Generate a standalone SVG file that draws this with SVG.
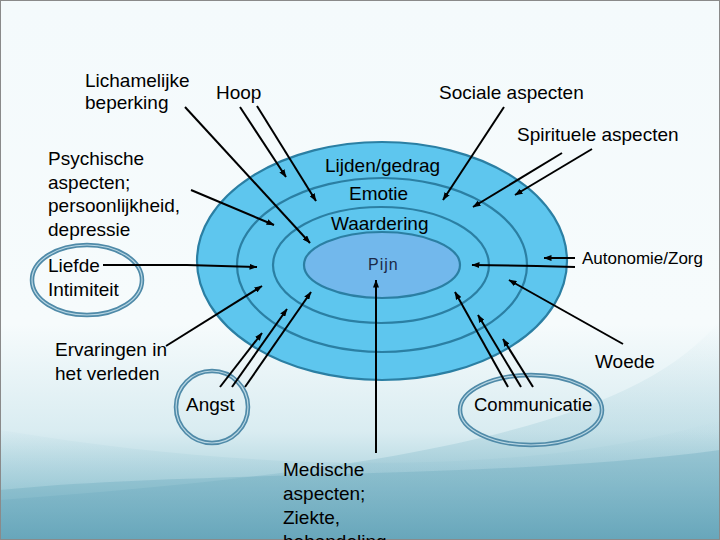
<svg xmlns="http://www.w3.org/2000/svg" width="720" height="540" viewBox="0 0 720 540">
<defs>
<linearGradient id="bg" x1="0" y1="0" x2="0" y2="1">
<stop offset="0" stop-color="#f4fafc"/>
<stop offset="0.6" stop-color="#f6fbfc"/>
<stop offset="0.8" stop-color="#d9ecf1"/>
<stop offset="1" stop-color="#7fb9c9"/>
</linearGradient>
<linearGradient id="wave" x1="0" y1="0" x2="0" y2="1">
<stop offset="0" stop-color="#9fcad6" stop-opacity="0"/>
<stop offset="0.5" stop-color="#8cc0cf" stop-opacity="0.5"/>
<stop offset="1" stop-color="#5f9fb5" stop-opacity="0.9"/>
</linearGradient>
<marker id="ah" viewBox="0 0 8 6" refX="7.5" refY="3" markerWidth="8" markerHeight="6" markerUnits="userSpaceOnUse" orient="auto">
<path d="M0,0 L8,3 L0,6 z" fill="#000"/>
</marker>
<style>
text{font-family:"Liberation Sans",Arial,sans-serif;font-size:19px;fill:#000}
.ring{stroke:#2b7fa3;stroke-width:2.2}
.ann{fill:none;stroke:#4f8aa8;stroke-width:4.5}
.annhi{fill:none;stroke:#b8d6e3;stroke-width:1.2}
#connectors line,#connectors polyline{stroke:#000;stroke-width:2;fill:none;marker-end:url(#ah)}
</style>
</defs>
<rect width="720" height="540" fill="url(#bg)"/>
<path d="M720,320 C640,420 420,470 0,500 L0,540 L720,540 Z" fill="url(#wave)" opacity="0.55"/>
<path d="M720,420 C560,470 300,480 0,430 L0,540 L720,540 Z" fill="url(#wave)" opacity="0.6"/>
<path d="M0,490 C200,470 500,480 720,450 L720,540 L0,540 Z" fill="#6aa9bd" opacity="0.35"/>
<rect x="0.5" y="0.5" width="719" height="539" fill="none" stroke="#8a8a8a" stroke-width="1"/>

<g id="rings">
<ellipse class="ring" cx="382" cy="261" rx="185" ry="119" fill="#5ec6ee"/>
<ellipse class="ring" cx="382" cy="265" rx="145" ry="87" fill="#5ec6ee"/>
<ellipse class="ring" cx="381" cy="265" rx="108" ry="58" fill="#5ec6ee"/>
<ellipse class="ring" cx="382" cy="265" rx="78" ry="33" fill="#72b8ec"/>
</g>

<g id="ring-labels">
<text x="325" y="172">Lijden/gedrag</text>
<text x="349" y="200">Emotie</text>
<text x="331" y="230">Waardering</text>
<text x="368" y="270" style="font-size:16px;letter-spacing:1px;fill:#1c2a48">Pijn</text>
</g>

<g id="node-lichamelijke"><text x="85" y="87">Lichamelijke</text><text x="85" y="109">beperking</text></g>
<g id="node-hoop"><text x="216" y="99">Hoop</text></g>
<g id="node-sociale"><text x="439" y="99">Sociale aspecten</text></g>
<g id="node-spirituele"><text x="517" y="141">Spirituele aspecten</text></g>
<g id="node-psychische">
<text x="48" y="165">Psychische</text>
<text x="48" y="189">aspecten;</text>
<text x="48" y="212">persoonlijkheid,</text>
<text x="48" y="236">depressie</text>
</g>
<g id="node-liefde">
<ellipse class="ann" cx="87" cy="280" rx="55" ry="35"/>
<ellipse class="annhi" cx="87" cy="280" rx="55" ry="35"/>
<text x="48" y="272">Liefde</text>
<text x="48" y="296">Intimiteit</text>
</g>
<g id="node-autonomie"><text x="582" y="264" style="font-size:17px">Autonomie/Zorg</text></g>
<g id="node-ervaringen"><text x="55" y="356">Ervaringen in</text><text x="55" y="380">het verleden</text></g>
<g id="node-angst">
<ellipse class="ann" cx="212" cy="407" rx="36" ry="36"/>
<ellipse class="annhi" cx="212" cy="407" rx="36" ry="36"/>
<text x="186" y="411">Angst</text>
</g>
<g id="node-woede"><text x="595" y="368">Woede</text></g>
<g id="node-communicatie">
<ellipse class="ann" cx="531" cy="410" rx="71" ry="35"/>
<ellipse class="annhi" cx="531" cy="410" rx="71" ry="35"/>
<text x="474" y="411" style="font-size:18.5px">Communicatie</text>
</g>
<g id="node-medische">
<text x="283" y="476">Medische</text>
<text x="283" y="500">aspecten;</text>
<text x="283" y="524">Ziekte,</text>
<text x="283" y="548">behandeling</text>
</g>

<g id="connectors">
<line x1="185" y1="107" x2="310" y2="243"/>
<line x1="240" y1="107" x2="286" y2="177"/>
<line x1="257" y1="106" x2="316" y2="201"/>
<line x1="191" y1="190" x2="274" y2="225"/>
<polyline points="103,265 187,265 257,267"/>
<line x1="504" y1="107" x2="443" y2="200"/>
<line x1="562" y1="153" x2="473" y2="207"/>
<line x1="592" y1="149" x2="515" y2="195"/>
<line x1="575" y1="258" x2="544" y2="258"/>
<polyline points="575,267 537,266 472,265"/>
<line x1="623" y1="344" x2="509" y2="280"/>
<line x1="166" y1="346" x2="262" y2="286"/>
<line x1="220" y1="387" x2="262" y2="333"/>
<line x1="232" y1="387" x2="287" y2="309"/>
<line x1="245" y1="387" x2="311" y2="292"/>
<line x1="376" y1="453" x2="376" y2="280"/>
<line x1="508" y1="387" x2="455" y2="292"/>
<line x1="521" y1="387" x2="478" y2="315"/>
<line x1="533" y1="387" x2="503" y2="339"/>
</g>
</svg>
